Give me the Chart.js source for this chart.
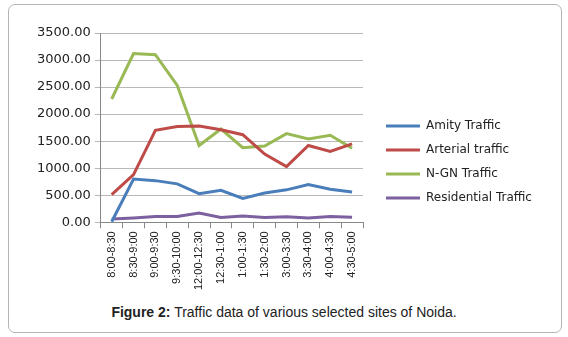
<!DOCTYPE html>
<html lang="en">
<head>
    <meta charset="UTF-8">
    <title>Traffic data of Noida</title>
    <style>
        body {
            margin: 0;
            background: #fff;
            width: 568px;
            height: 337px;
            position: relative;
            overflow: hidden;
        }
        .frame {
            position: absolute;
            left: 8px;
            top: 4px;
            width: 552px;
            height: 327px;
            border: 1px solid #b4b4b4;
            border-radius: 7px;
        }
        .chart-box {
            position: absolute;
            left: 0;
            top: 0;
            width: 568px;
            height: 300px;
        }
        .caption {
            position: absolute;
            left: 0;
            width: 568px;
            top: 304px;
            text-align: center;
            font-family: 'Liberation Sans', Arial, sans-serif;
            font-size: 14px;
            color: #222;
        }
    </style>
</head>
<body>
    <div class="frame"></div>
    <div class="chart-box"><canvas id="trafficChart"></canvas></div>
    <div class="caption"><b>Figure 2:</b> Traffic data of various selected sites of Noida.</div>

    <script src="https://cdn.jsdelivr.net/npm/chart.js"></script>
    <script>
        // time slots on the x axis
        const timeSlots = ['8:00-8:30', '8:30-9:00', '9:00-9:30', '9:30-10:00', '12:00-12:30', '12:30-1:00',
            '1:00-1:30', '1:30-2:00', '3:00-3:30', '3:30-4:00', '4:00-4:30', '4:30-5:00'];

        // traffic counts
        const amityTraffic = [10, 800, 770, 710, 530, 590, 440, 540, 600, 700, 610, 560];
        const arterialTraffic = [510, 880, 1700, 1770, 1780, 1710, 1620, 1260, 1030, 1420, 1310, 1450];
        const ngnTraffic = [2280, 3120, 3100, 2530, 1420, 1725, 1380, 1410, 1640, 1540, 1610, 1370];
        const residentialTraffic = [60, 80, 105, 105, 170, 90, 115, 90, 100, 80, 105, 95];

        const yTicks = [0, 500, 1000, 1500, 2000, 2500, 3000, 3500];

        function line(label, data, color) {
            return {
                label: label,
                data: data,
                borderColor: color,
                backgroundColor: color,
                borderWidth: 3,
                pointRadius: 0,
                tension: 0
            };
        }

        // the legend box is capped narrow on the right side, so nudge it into place
        const legendShift = {
            id: 'legendShift',
            afterLayout(chart) {
                const lg = chart.legend;
                lg.left += 11;
                lg.right = chart.width;
                lg.width = lg.right - lg.left;
                lg.top += 75; lg.bottom += 75;
            }
        };

        const ctx = document.getElementById('trafficChart').getContext('2d');
        const trafficChart = new Chart(ctx, {
            type: 'line',
            data: {
                labels: timeSlots,
                datasets: [
                    line('Amity Traffic', amityTraffic, '#4a7ebb'),
                    line('Arterial traffic', arterialTraffic, '#be4b48'),
                    line('N-GN Traffic', ngnTraffic, '#98b954'),
                    line('Residential Traffic', residentialTraffic, '#7d60a0')
                ]
            },
            plugins: [legendShift],
            options: {
                responsive: true,
                maintainAspectRatio: false,
                animation: false,
                layout: {
                    padding: { left: 33, top: 33, right: 95, bottom: 7 }
                },
                plugins: {
                    tooltip: { enabled: false },
                    legend: {
                        position: 'right',
                        align: 'start',
                        labels: {
                            usePointStyle: true,
                            pointStyle: 'line',
                            pointStyleWidth: 34,
                            padding: 12,
                            color: '#222',
                            font: { family: 'DejaVu Sans', size: 12 }
                        }
                    }
                },
                scales: {
                    x: {
                        offset: true,
                        grid: {
                            offset: true,
                            drawOnChartArea: false,
                            tickLength: 6,
                            color: '#888'
                        },
                        border: { color: '#888' },
                        ticks: {
                            minRotation: 90,
                            maxRotation: 90,
                            autoSkip: false,
                            color: '#222',
                            font: { family: 'Liberation Sans', size: 11 }
                        }
                    },
                    y: {
                        min: 0,
                        max: 3500,
                        afterBuildTicks: function(axis) {
                            axis.ticks = yTicks.map(v => ({ value: v }));
                        },
                        grid: {
                            color: '#b8b8b8',
                            tickLength: 6
                        },
                        border: { color: '#888' },
                        ticks: {
                            color: '#222',
                            padding: 4,
                            font: { family: 'DejaVu Sans', size: 13 },
                            callback: function(v) { return Number(v).toFixed(2); }
                        }
                    }
                }
            }
        });
    </script>
</body>
</html>
